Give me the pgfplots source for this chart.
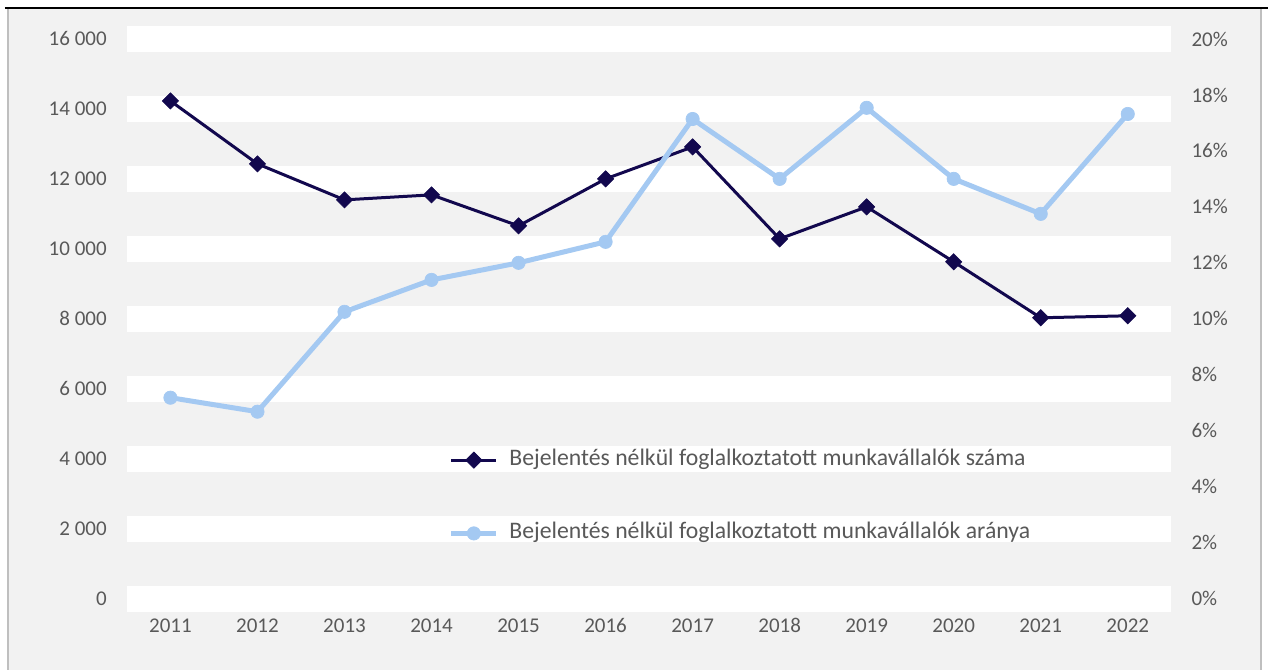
\documentclass[border=0pt]{standalone}
\usepackage{pgfplots}
\pgfplotsset{compat=1.18}
\usepackage{fontspec}
\setmainfont{Carlito}

\definecolor{sotet}{RGB}{18,8,78}
\definecolor{vilagos}{RGB}{164,201,242}
\definecolor{hatter}{RGB}{242,242,242}
\definecolor{felirat}{RGB}{89,89,89}
\definecolor{keret}{RGB}{191,191,191}

\pgfplotstableread{
ev szam arany
2011 14229 7.18
2012 12429 6.68
2013 11400 10.25
2014 11543 11.39
2015 10657 12.00
2016 12000 12.75
2017 12914 17.14
2018 10286 15.00
2019 11200 17.54
2020 9629 15.00
2021 8029 13.75
2022 8086 17.32
}\adatok

\pgfplotsset{
  alap/.style={
    scale only axis,
    width=783.75pt, height=420pt,
    at={(95.25pt,53.25pt)}, anchor=south west,
    xmin=2010.5, xmax=2022.5,
    axis line style={draw=none},
    major tick length=0pt,
    scaled y ticks=false,
    tick label style={font=\fontsize{15.75}{18}\selectfont, text=felirat, inner sep=0pt},
    clip=false,
  },
  sorvonal/.style={sotet, line width=2.25pt, mark=square*, mark size=4.3pt,
    mark options={rotate=45, solid, line width=0.5pt}},
  aranyvonal/.style={vilagos, line width=3.75pt, mark=*, mark size=5pt,
    mark options={solid, line width=0.5pt}},
}

\begin{document}
\begin{tikzpicture}
\begin{scope}[x=0.75pt, y=0.75pt]
\fill[white] (0,0) rectangle (1269,670);
\fill[hatter] (8,0) rectangle (1262,662);
\draw[keret, line width=1.2pt] (8,0) -- (8,662);
\draw[keret, line width=1.2pt] (1262,0) -- (1262,662);
\draw[black, line width=1.2pt] (5,662) -- (1269,662);
\end{scope}
\useasboundingbox (0,0) rectangle (951.75pt,502.5pt);

\begin{axis}[
  alap,
  ymin=0, ymax=16000,
  ytick={0,2000,4000,6000,8000,10000,12000,14000,16000},
  yticklabels={0,2 000,4 000,6 000,8 000,10 000,12 000,14 000,16 000},
  yticklabel style={anchor=east, xshift=-15pt},
  xtick={2011,2012,2013,2014,2015,2016,2017,2018,2019,2020,2021,2022},
  xticklabels={2011,2012,2013,2014,2015,2016,2017,2018,2019,2020,2021,2022},
  xticklabel style={anchor=north, text height=10.5pt, text depth=0pt, yshift=-14.5pt},
  ymajorgrids,
  major grid style={white, line width=19.5pt},
]
\addplot[sorvonal] table[x=ev, y=szam] {\adatok};
\end{axis}

\begin{axis}[
  alap,
  ymin=0, ymax=20,
  axis y line*=right,
  hide x axis,
  ytick={0,2,4,6,8,10,12,14,16,18,20},
  yticklabels={0\%,2\%,4\%,6\%,8\%,10\%,12\%,14\%,16\%,18\%,20\%},
  yticklabel style={anchor=west, xshift=15pt},
  legend cell align=left,
  legend image code/.code={\draw[mark repeat=2, mark phase=2] plot coordinates {(0pt,0pt) (16.875pt,0pt) (33.75pt,0pt)};},
  legend style={at={(0.308,0.182)}, anchor=west, draw=none, fill=none,
    inner sep=0pt, row sep=38pt,
    font=\fontsize{17.8}{20}\selectfont, text=felirat,
    nodes={inner sep=0pt, text height=12.5pt, text depth=4.5pt},
    /tikz/every odd column/.append style={column sep=8pt}},
]
\addlegendimage{sorvonal}
\addlegendentry{Bejelentés nélkül foglalkoztatott munkavállalók száma}
\addplot[aranyvonal] table[x=ev, y=arany] {\adatok};
\addlegendentry{Bejelentés nélkül foglalkoztatott munkavállalók aránya}
\end{axis}
\end{tikzpicture}
\end{document}
